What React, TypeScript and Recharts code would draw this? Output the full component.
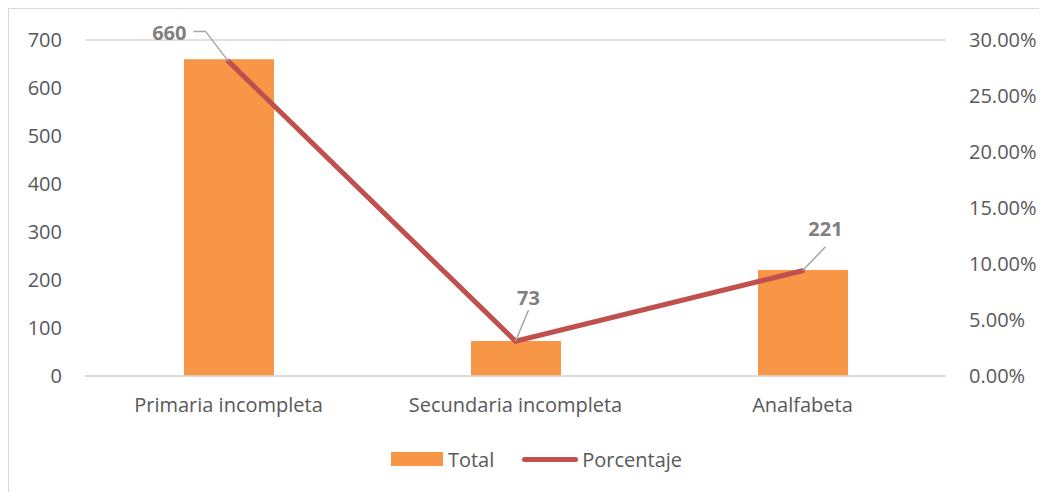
import React from "react";
import {
  ComposedChart,
  Bar,
  Line,
  XAxis,
  YAxis,
  CartesianGrid,
  Legend,
} from "recharts";

const categories = ["Primaria incompleta", "Secundaria incompleta", "Analfabeta"];
const totals = [660, 73, 221];
const percentages = [0.2809, 0.0311, 0.094];
const leftTicks = [0, 100, 200, 300, 400, 500, 600, 700];
const rightTicks = [0, 0.05, 0.1, 0.15, 0.2, 0.25, 0.3];

// label placement relative to each line point: text offset + leader line
const labelOffsets = [
  { tx: -42, ty: -29, anchor: "end", leader: [[-35, -30], [-23, -30], [0, 0]] },
  { tx: 13, ty: -44, anchor: "middle", leader: [[13, -31], [0, 0]] },
  { tx: 23, ty: -42, anchor: "middle", leader: [[23, -24], [0, 0]] },
];

const data = categories.map((name, i) => ({
  name,
  Total: totals[i],
  Porcentaje: percentages[i],
}));

const FONT = "'Open Sans', 'Noto Sans', sans-serif";
const TEXT = "#595959";
const FS = 20;

const PointLabel = (props: any) => {
  const { x, y, index } = props;
  const o = labelOffsets[index];
  if (!o) return null;
  const pts = o.leader.map(([dx, dy]) => `${x + dx},${y + dy}`).join(" ");
  return (
    <g>
      <polyline points={pts} fill="none" stroke="#a6a6a6" strokeWidth={1.5} />
      <text
        x={x + o.tx}
        y={y + o.ty}
        textAnchor={o.anchor}
        dominantBaseline="central"
        fill="#7f7f7f"
        fontWeight="bold"
        fontSize={FS}
        fontFamily={FONT}
      >
        {totals[index]}
      </text>
    </g>
  );
};

const LegendContent = () => (
  <div
    style={{
      height: 30,
      display: "flex",
      justifyContent: "center",
      alignItems: "center",
      paddingLeft: 16,
      fontFamily: FONT,
      fontSize: FS,
      color: TEXT,
    }}
  >
    <span style={{ display: "inline-block", width: 52, height: 14, background: "#F79646", marginRight: 5 }} />
    <span style={{ marginRight: 28 }}>Total</span>
    <span
      style={{
        display: "inline-block",
        width: 56,
        height: 5,
        borderRadius: 3,
        background: "#C0504D",
        marginRight: 4,
      }}
    />
    <span>Porcentaje</span>
  </div>
);

export default function App() {
  return (
    <div
      style={{
        width: 1039,
        height: 484,
        borderLeft: "1px solid #d9d9d9",
        borderTop: "1px solid #d9d9d9",
        background: "#fff",
        overflow: "hidden",
      }}
    >
      <ComposedChart
        width={1039}
        height={483}
        data={data}
        margin={{ top: 31, right: 0, left: 0, bottom: 18 }}
      >
        <CartesianGrid vertical={false} stroke="#d9d9d9" strokeWidth={1.5} />
        <XAxis
          dataKey="name"
          axisLine={{ stroke: "#d9d9d9", strokeWidth: 1.5 }}
          tickLine={false}
          tickMargin={16}
          height={68}
          tick={{ fill: TEXT, fontSize: FS, fontFamily: FONT }}
        />
        <YAxis
          yAxisId="left"
          domain={[0, 700]}
          ticks={leftTicks}
          axisLine={false}
          tickLine={false}
          tickMargin={17}
          width={76}
          tick={{ fill: TEXT, fontSize: FS, fontFamily: FONT }}
        />
        <YAxis
          yAxisId="right"
          orientation="right"
          domain={[0, 0.3]}
          ticks={rightTicks}
          axisLine={false}
          tickLine={false}
          tickMargin={17}
          width={102}
          tickFormatter={(v: number) => (v * 100).toFixed(2) + "%"}
          tick={{ fill: TEXT, fontSize: FS, fontFamily: FONT, textAnchor: "start" }}
        />
        <Legend verticalAlign="bottom" height={30} content={<LegendContent />} />
        <Bar
          yAxisId="left"
          dataKey="Total"
          fill="#F79646"
          barSize={90}
          isAnimationActive={false}
        />
        <Line
          yAxisId="right"
          dataKey="Porcentaje"
          stroke="#C0504D"
          strokeWidth={5}
          strokeLinecap="round"
          dot={false}
          activeDot={false}
          label={<PointLabel />}
          isAnimationActive={false}
        />
      </ComposedChart>
    </div>
  );
}
